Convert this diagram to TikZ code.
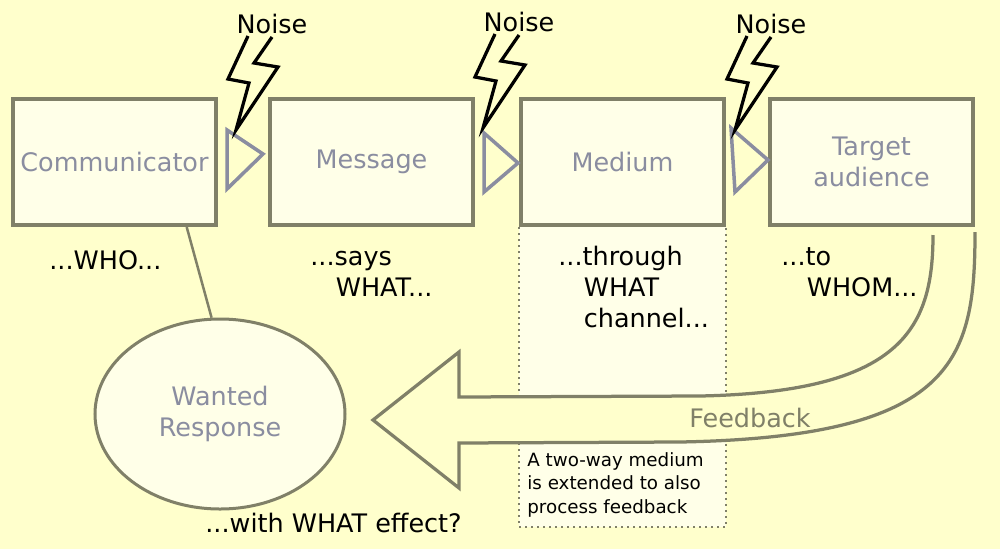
\documentclass[tikz,border=0pt]{standalone}
\usepackage{fontspec}
\setmainfont{DejaVu Sans}
\usetikzlibrary{positioning,shapes.geometric}

\definecolor{bgyellow}{HTML}{FFFFCC}
\definecolor{boxfill}{HTML}{FFFFE8}
\definecolor{boxline}{HTML}{808068}
\definecolor{labelgrey}{HTML}{8A8DA0}

\newcommand{\mainsize}{\fontsize{14.5pt}{17.4pt}\selectfont}
\newcommand{\notesize}{\fontsize{10.4pt}{13.1pt}\selectfont}

\begin{document}
\begin{tikzpicture}[x=0.2mm,y=-0.2mm,node distance=9.4mm,
  every node/.style={font=\mainsize},
  stage/.style={draw=boxline,line width=0.8mm,fill=boxfill,text=labelgrey,
    minimum width=40.6mm,minimum height=25.2mm,inner sep=1pt,align=center},
  gate/.style={draw=labelgrey,line width=0.7mm},
  bolt/.style={draw=black,line width=0.65mm},
  question/.style={anchor=base west,align=left,inner sep=0pt},
  link/.style={draw=boxline,line width=0.5mm},
  channel/.style={draw=boxline,line width=0.5mm,dash pattern=on 0.4mm off 0.8mm,fill=boxfill},
  feedback/.style={draw=boxline,line width=0.65mm,fill=bgyellow},
  noise/.pic={
    \draw[bolt] (12,-94) -- (-8,-51) -- (13,-47) -- (0,0) -- (42,-63) -- (18,-67) -- (36,-93);
    \node (-lbl) at (36,-106) {Noise};
  }]
  \useasboundingbox (0,0) rectangle (1000,549);
  \fill[bgyellow] (0,0) rectangle (1000,549);

  \node[stage] (comm) at (114.5,162) {Communicator};
  \node[stage, right=10mm of comm] (msg) {Message};
  \node[stage, right=8.8mm of msg] (med) {Medium};
  \node[stage, right=8.4mm of med] (tgt) {Target\\audience};

  % two-way medium
  \draw[channel] (med.south west) -- ++(0,300) -| (med.south east);

  \draw[feedback] (933,235) .. controls (933,330) and (900,392) .. (700,396) -- (459,397)
    -- (459,352) -- (373,420) -- (459,488) -- (459,443) -- (680,442)
    .. controls (955,437) and (975,360) .. (975,232);
  \node[text=boxline] (fblabel) at (750,418) {Feedback};
  \node[question, font=\notesize] (note) at (527,513) {A two-way medium\\is extended to also\\process feedback};

  % channels and noise
  \draw[gate] (227,130) -- (227,189) -- (263,154) -- cycle;
  \draw[gate] (484,133) -- (484,192) -- (518,163) -- cycle;
  \draw[gate] (731,128) -- (735,192) -- (768,160) -- cycle;
  \pic (n1) at (236,130) {noise};
  \pic (n2) at (483,128) {noise};
  \pic (n3) at (735,130) {noise};

  \node[question] (who) at (49,269) {...WHO...};
  \node[question] (what) at (310,296) {...says\\\hspace*{1em}WHAT...};
  \node[question] (chan) at (558,327) {...through\\\hspace*{1em}WHAT\\\hspace*{1em}channel...};
  \node[question] (whom) at (781,296) {...to\\\hspace*{1em}WHOM...};

  \node[stage, ellipse, line width=0.6mm, minimum width=50mm, minimum height=38mm] (resp) at (220,414) {Wanted\\Response};
  \draw[link] (comm.-42) -- (resp.95);
  \node[question] (effect) at (205,532) {...with WHAT effect?};
\end{tikzpicture}
\end{document}
